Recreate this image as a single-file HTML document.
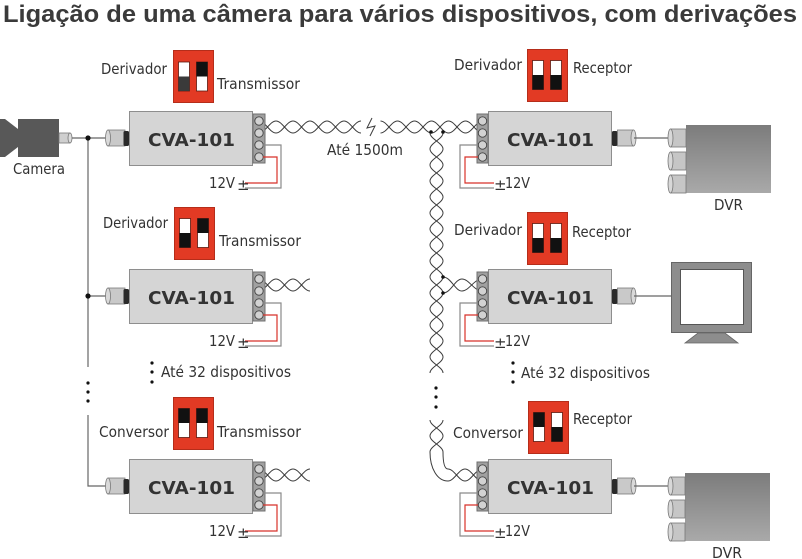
<!DOCTYPE html>
<html><head><meta charset="utf-8">
<style>
html,body{margin:0;padding:0;background:#fff;}
svg{display:block;}
text{font-family:"DejaVu Sans","Liberation Sans",sans-serif;fill:#333;font-size:15px;}
.t{font-family:"Liberation Sans",sans-serif;font-weight:bold;font-size:24px;fill:#3a3a3a;}
.c{font-family:"DejaVu Sans","Liberation Sans",sans-serif;font-weight:bold;font-size:18px;fill:#333;}
.w{fill:none;stroke:#3c3c3c;stroke-width:1;}
.g{fill:none;stroke:#8a8a8a;stroke-width:1.2;}
.r{fill:none;stroke:#d8322a;stroke-width:1.2;}
.ln{fill:none;stroke:#666;stroke-width:1.2;}
</style></head><body>
<svg width="802" height="559" viewBox="0 0 802 559" xmlns="http://www.w3.org/2000/svg">
<defs>
<linearGradient id="dvr" x1="0" y1="0" x2="0" y2="1"><stop offset="0" stop-color="#7c7c7c"/><stop offset="1" stop-color="#a9a9a9"/></linearGradient>
</defs>
<rect width="802" height="559" fill="#fff"/>

<text class="t" x="3" y="22" textLength="794" lengthAdjust="spacingAndGlyphs">Ligação de uma câmera para vários dispositivos, com derivações</text>

<!-- Camera -->
<polygon points="0,119 5,119 18,129 18,147 5,157 0,157" fill="#585858"/>
<rect x="18" y="119" width="41" height="38" fill="#585858"/>
<rect x="59" y="133" width="11" height="10" fill="#cfcfcf" stroke="#777" stroke-width="0.8"/>
<ellipse cx="70" cy="138" rx="2" ry="5" fill="#ddd" stroke="#777" stroke-width="0.8"/>
<text x="13" y="174" textLength="52" lengthAdjust="spacingAndGlyphs">Camera</text>

<!-- Left bus -->
<path class="ln" d="M72,138H108M88,138V367M88,296H109M88,415V486H108"/>
<circle cx="88" cy="138" r="2.6" fill="#111"/>
<circle cx="88" cy="296" r="2.6" fill="#111"/>
<circle cx="88" cy="383" r="1.6" fill="#111"/>
<circle cx="88" cy="392" r="1.6" fill="#111"/>
<circle cx="88" cy="401" r="1.6" fill="#111"/>

<!-- DIP switches -->
<g transform="translate(173,50)">
<rect x="0.5" y="0.5" width="40" height="52" fill="#e23a24" stroke="#b52d1a"/>
<rect x="5.5" y="12" width="11" height="29" fill="#fff" stroke="#5a1a10" stroke-width="0.8"/>
<rect x="5.5" y="26.5" width="11" height="14.5" fill="#3a3a3a"/>
<rect x="23.5" y="12" width="11" height="29" fill="#fff" stroke="#5a1a10" stroke-width="0.8"/>
<rect x="23.5" y="12" width="11" height="14.5" fill="#111"/>
</g>
<text x="101" y="74" textLength="66" lengthAdjust="spacingAndGlyphs">Derivador</text>
<text x="217" y="89" textLength="83" lengthAdjust="spacingAndGlyphs">Transmissor</text>

<g transform="translate(174,207)">
<rect x="0.5" y="0.5" width="40" height="52" fill="#e23a24" stroke="#b52d1a"/>
<rect x="5.5" y="11.5" width="11" height="29" fill="#fff" stroke="#5a1a10" stroke-width="0.8"/>
<rect x="5.5" y="26" width="11" height="14.5" fill="#111"/>
<rect x="23.5" y="11.5" width="11" height="29" fill="#fff" stroke="#5a1a10" stroke-width="0.8"/>
<rect x="23.5" y="11.5" width="11" height="14.5" fill="#111"/>
</g>
<text x="103" y="228" textLength="65" lengthAdjust="spacingAndGlyphs">Derivador</text>
<text x="219" y="246" textLength="82" lengthAdjust="spacingAndGlyphs">Transmissor</text>

<g transform="translate(173,397)">
<rect x="0.5" y="0.5" width="40" height="52" fill="#e23a24" stroke="#b52d1a"/>
<rect x="5.5" y="11.5" width="11" height="29" fill="#fff" stroke="#5a1a10" stroke-width="0.8"/>
<rect x="5.5" y="11.5" width="11" height="14.5" fill="#111"/>
<rect x="23.5" y="11.5" width="11" height="29" fill="#fff" stroke="#5a1a10" stroke-width="0.8"/>
<rect x="23.5" y="11.5" width="11" height="14.5" fill="#111"/>
</g>
<text x="99" y="437" textLength="70" lengthAdjust="spacingAndGlyphs">Conversor</text>
<text x="217" y="437" textLength="84" lengthAdjust="spacingAndGlyphs">Transmissor</text>

<g transform="translate(527,49)">
<rect x="0.5" y="0.5" width="40" height="52" fill="#e23a24" stroke="#b52d1a"/>
<rect x="5.5" y="11.5" width="11" height="29" fill="#fff" stroke="#5a1a10" stroke-width="0.8"/>
<rect x="5.5" y="26" width="11" height="14.5" fill="#111"/>
<rect x="23.5" y="11.5" width="11" height="29" fill="#fff" stroke="#5a1a10" stroke-width="0.8"/>
<rect x="23.5" y="26" width="11" height="14.5" fill="#111"/>
</g>
<text x="454" y="70" textLength="68" lengthAdjust="spacingAndGlyphs">Derivador</text>
<text x="573" y="73" textLength="59" lengthAdjust="spacingAndGlyphs">Receptor</text>

<g transform="translate(527,212)">
<rect x="0.5" y="0.5" width="40" height="52" fill="#e23a24" stroke="#b52d1a"/>
<rect x="5.5" y="11.5" width="11" height="29" fill="#fff" stroke="#5a1a10" stroke-width="0.8"/>
<rect x="5.5" y="26" width="11" height="14.5" fill="#111"/>
<rect x="23.5" y="11.5" width="11" height="29" fill="#fff" stroke="#5a1a10" stroke-width="0.8"/>
<rect x="23.5" y="26" width="11" height="14.5" fill="#111"/>
</g>
<text x="454" y="235" textLength="68" lengthAdjust="spacingAndGlyphs">Derivador</text>
<text x="572" y="237" textLength="59" lengthAdjust="spacingAndGlyphs">Receptor</text>

<g transform="translate(528,401)">
<rect x="0.5" y="0.5" width="40" height="52" fill="#e23a24" stroke="#b52d1a"/>
<rect x="5.5" y="11.5" width="11" height="29" fill="#fff" stroke="#5a1a10" stroke-width="0.8"/>
<rect x="5.5" y="11.5" width="11" height="14.5" fill="#111"/>
<rect x="23.5" y="11.5" width="11" height="29" fill="#fff" stroke="#5a1a10" stroke-width="0.8"/>
<rect x="23.5" y="26" width="11" height="14.5" fill="#111"/>
</g>
<text x="573" y="424" textLength="59" lengthAdjust="spacingAndGlyphs">Receptor</text>
<text x="453" y="438" textLength="70" lengthAdjust="spacingAndGlyphs">Conversor</text>

<!-- Até 32 dispositivos -->
<circle cx="152" cy="363" r="1.6" fill="#111"/><circle cx="152" cy="372" r="1.6" fill="#111"/><circle cx="152" cy="382" r="1.6" fill="#111"/>
<text x="161" y="377" textLength="130" lengthAdjust="spacingAndGlyphs">Até 32 dispositivos</text>
<circle cx="513" cy="363" r="1.6" fill="#111"/><circle cx="513" cy="372" r="1.6" fill="#111"/><circle cx="513" cy="382" r="1.6" fill="#111"/>
<text x="521" y="378" textLength="129" lengthAdjust="spacingAndGlyphs">Até 32 dispositivos</text>

<!-- Twisted pairs -->
<path class="w" d="M259,121c6.19,0 10.81,12 17,12s10.81,-12 17,-12s10.81,12 17,12s10.81,-12 17,-12s10.81,12 17,12s10.81,-12 17,-12"/>
<path class="w" d="M259,133c6.19,0 10.81,-12 17,-12s10.81,12 17,12s10.81,-12 17,-12s10.81,12 17,12s10.81,-12 17,-12s10.81,12 17,12"/>
<path class="w" d="M372,118L367,128L375,126L370,136"/>
<text x="327" y="155" textLength="76" lengthAdjust="spacingAndGlyphs">Até 1500m</text>
<path class="w" d="M380.5,121c6.19,0 10.81,12 17,12s10.81,-12 17,-12s10.81,12 17,12s10.81,-12 17,-12s10.81,12 17,12s10.81,-12 17,-12"/>
<path class="w" d="M380.5,133c6.19,0 10.81,-12 17,-12s10.81,12 17,12s10.81,-12 17,-12s10.81,12 17,12s10.81,-12 17,-12s10.81,12 17,12"/>

<path class="w" d="M259,279c6.19,0 10.81,12 17,12s10.81,-12 17,-12s10.81,12 17,12"/>
<path class="w" d="M259,291c6.19,0 10.81,-12 17,-12s10.81,12 17,12s10.81,-12 17,-12"/>
<path class="w" d="M259,469c6.19,0 10.81,12 17,12s10.81,-12 17,-12s10.81,12 17,12"/>
<path class="w" d="M259,481c6.19,0 10.81,-12 17,-12s10.81,12 17,12s10.81,-12 17,-12"/>

<!-- vertical pair -->
<path class="w" d="M430,133c0,5.83 13,10.17 13,16s-13,10.17 -13,16s13,10.17 13,16s-13,10.17 -13,16s13,10.17 13,16s-13,10.17 -13,16s13,10.17 13,16s-13,10.17 -13,16s13,10.17 13,16s-13,10.17 -13,16s13,10.17 13,16s-13,10.17 -13,16s13,10.17 13,16s-13,10.17 -13,16s13,10.17 13,16"/>
<path class="w" d="M443,133c0,5.83 -13,10.17 -13,16s13,10.17 13,16s-13,10.17 -13,16s13,10.17 13,16s-13,10.17 -13,16s13,10.17 13,16s-13,10.17 -13,16s13,10.17 13,16s-13,10.17 -13,16s13,10.17 13,16s-13,10.17 -13,16s13,10.17 13,16s-13,10.17 -13,16s13,10.17 13,16s-13,10.17 -13,16"/>
<circle cx="431" cy="132" r="1.8" fill="#111"/>
<circle cx="443" cy="132" r="1.8" fill="#111"/>
<path class="w" d="M443,277C451,277 455,291 462,291S474,279 482,279"/>
<path class="w" d="M443,293C451,293 455,279 462,279S474,291 482,291"/>
<circle cx="443" cy="277" r="1.8" fill="#111"/>
<circle cx="443" cy="293" r="1.8" fill="#111"/>
<circle cx="436" cy="388" r="1.6" fill="#111"/><circle cx="436" cy="397" r="1.6" fill="#111"/><circle cx="436" cy="407" r="1.6" fill="#111"/>
<path class="w" d="M430,420c0,5.83 13,10.17 13,16s-13,10.17 -13,16C430,468 437,481 448,481c6.19,0 10.81,-12 17,-12s10.81,12 17,12"/>
<path class="w" d="M443,420c0,5.83 -13,10.17 -13,16s13,10.17 13,16C443,461 444,469 448,469c6.19,0 10.81,12 17,12s10.81,-12 17,-12"/>

<!-- Left modules -->
<g transform="translate(129,111)">
<rect x="-21" y="19" width="17" height="16" fill="#c9c9c9" stroke="#7a7a7a" stroke-width="0.8"/>
<ellipse cx="-21" cy="27" rx="2.5" ry="8" fill="#d9d9d9" stroke="#7a7a7a" stroke-width="0.8"/>
<rect x="-5.5" y="20" width="5.5" height="15" rx="1.5" fill="#2a2a2a"/>
<rect x="0.5" y="0.5" width="123" height="54" fill="#d5d5d5" stroke="#8e8e8e"/>
<rect x="124" y="3" width="12" height="49" fill="#a0a0a0" stroke="#6f6f6f"/>
<g fill="#d2d2d2" stroke="#444" stroke-width="0.9"><circle cx="130" cy="10" r="4.2"/><circle cx="130" cy="22" r="4.2"/><circle cx="130" cy="34" r="4.2"/><circle cx="130" cy="46" r="4.2"/></g>
<path class="g" d="M134,34H152V77H116"/>
<path class="r" d="M134,46H148V72H116"/>
<text class="c" x="19" y="35" textLength="87" lengthAdjust="spacingAndGlyphs">CVA-101</text>
<text x="80" y="77" textLength="26" lengthAdjust="spacingAndGlyphs">12V</text>
<text x="108" y="79">±</text>
</g>
<g transform="translate(129,269)">
<rect x="-21" y="19" width="17" height="16" fill="#c9c9c9" stroke="#7a7a7a" stroke-width="0.8"/>
<ellipse cx="-21" cy="27" rx="2.5" ry="8" fill="#d9d9d9" stroke="#7a7a7a" stroke-width="0.8"/>
<rect x="-5.5" y="20" width="5.5" height="15" rx="1.5" fill="#2a2a2a"/>
<rect x="0.5" y="0.5" width="123" height="54" fill="#d5d5d5" stroke="#8e8e8e"/>
<rect x="124" y="3" width="12" height="49" fill="#a0a0a0" stroke="#6f6f6f"/>
<g fill="#d2d2d2" stroke="#444" stroke-width="0.9"><circle cx="130" cy="10" r="4.2"/><circle cx="130" cy="22" r="4.2"/><circle cx="130" cy="34" r="4.2"/><circle cx="130" cy="46" r="4.2"/></g>
<path class="g" d="M134,34H152V77H116"/>
<path class="r" d="M134,46H148V72H116"/>
<text class="c" x="19" y="35" textLength="87" lengthAdjust="spacingAndGlyphs">CVA-101</text>
<text x="80" y="77" textLength="26" lengthAdjust="spacingAndGlyphs">12V</text>
<text x="108" y="79">±</text>
</g>
<g transform="translate(129,459)">
<rect x="-21" y="19" width="17" height="16" fill="#c9c9c9" stroke="#7a7a7a" stroke-width="0.8"/>
<ellipse cx="-21" cy="27" rx="2.5" ry="8" fill="#d9d9d9" stroke="#7a7a7a" stroke-width="0.8"/>
<rect x="-5.5" y="20" width="5.5" height="15" rx="1.5" fill="#2a2a2a"/>
<rect x="0.5" y="0.5" width="123" height="54" fill="#d5d5d5" stroke="#8e8e8e"/>
<rect x="124" y="3" width="12" height="49" fill="#a0a0a0" stroke="#6f6f6f"/>
<g fill="#d2d2d2" stroke="#444" stroke-width="0.9"><circle cx="130" cy="10" r="4.2"/><circle cx="130" cy="22" r="4.2"/><circle cx="130" cy="34" r="4.2"/><circle cx="130" cy="46" r="4.2"/></g>
<path class="g" d="M134,34H152V77H116"/>
<path class="r" d="M134,46H148V72H116"/>
<text class="c" x="19" y="35" textLength="87" lengthAdjust="spacingAndGlyphs">CVA-101</text>
<text x="80" y="77" textLength="26" lengthAdjust="spacingAndGlyphs">12V</text>
<text x="108" y="79">±</text>
</g>

<!-- Right modules -->
<g transform="translate(488,111)">
<rect x="0.5" y="0.5" width="123" height="54" fill="#d5d5d5" stroke="#8e8e8e"/>
<rect x="-11" y="3" width="11" height="49" fill="#a0a0a0" stroke="#6f6f6f"/>
<g fill="#d2d2d2" stroke="#444" stroke-width="0.9"><circle cx="-5.5" cy="10" r="4.2"/><circle cx="-5.5" cy="22" r="4.2"/><circle cx="-5.5" cy="34" r="4.2"/><circle cx="-5.5" cy="46" r="4.2"/></g>
<rect x="124" y="20" width="5.5" height="15" rx="1.5" fill="#2a2a2a"/>
<rect x="129.5" y="19" width="16" height="16" fill="#c9c9c9" stroke="#7a7a7a" stroke-width="0.8"/>
<ellipse cx="145.5" cy="27" rx="2.5" ry="8" fill="#d9d9d9" stroke="#7a7a7a" stroke-width="0.8"/>
<path class="g" d="M-10,34H-28V77H6"/>
<path class="r" d="M-10,46H-23V72H6"/>
<text class="c" x="19" y="35" textLength="87" lengthAdjust="spacingAndGlyphs">CVA-101</text>
<text x="6" y="79">±</text>
<text x="17" y="77" textLength="25" lengthAdjust="spacingAndGlyphs">12V</text>
</g>
<g transform="translate(488,269)">
<rect x="0.5" y="0.5" width="123" height="54" fill="#d5d5d5" stroke="#8e8e8e"/>
<rect x="-11" y="3" width="11" height="49" fill="#a0a0a0" stroke="#6f6f6f"/>
<g fill="#d2d2d2" stroke="#444" stroke-width="0.9"><circle cx="-5.5" cy="10" r="4.2"/><circle cx="-5.5" cy="22" r="4.2"/><circle cx="-5.5" cy="34" r="4.2"/><circle cx="-5.5" cy="46" r="4.2"/></g>
<rect x="124" y="20" width="5.5" height="15" rx="1.5" fill="#2a2a2a"/>
<rect x="129.5" y="19" width="16" height="16" fill="#c9c9c9" stroke="#7a7a7a" stroke-width="0.8"/>
<ellipse cx="145.5" cy="27" rx="2.5" ry="8" fill="#d9d9d9" stroke="#7a7a7a" stroke-width="0.8"/>
<path class="g" d="M-10,34H-28V77H6"/>
<path class="r" d="M-10,46H-23V72H6"/>
<text class="c" x="19" y="35" textLength="87" lengthAdjust="spacingAndGlyphs">CVA-101</text>
<text x="6" y="79">±</text>
<text x="17" y="77" textLength="25" lengthAdjust="spacingAndGlyphs">12V</text>
</g>
<g transform="translate(488,459)">
<rect x="0.5" y="0.5" width="123" height="54" fill="#d5d5d5" stroke="#8e8e8e"/>
<rect x="-11" y="3" width="11" height="49" fill="#a0a0a0" stroke="#6f6f6f"/>
<g fill="#d2d2d2" stroke="#444" stroke-width="0.9"><circle cx="-5.5" cy="10" r="4.2"/><circle cx="-5.5" cy="22" r="4.2"/><circle cx="-5.5" cy="34" r="4.2"/><circle cx="-5.5" cy="46" r="4.2"/></g>
<rect x="124" y="20" width="5.5" height="15" rx="1.5" fill="#2a2a2a"/>
<rect x="129.5" y="19" width="16" height="16" fill="#c9c9c9" stroke="#7a7a7a" stroke-width="0.8"/>
<ellipse cx="145.5" cy="27" rx="2.5" ry="8" fill="#d9d9d9" stroke="#7a7a7a" stroke-width="0.8"/>
<path class="g" d="M-10,34H-28V77H6"/>
<path class="r" d="M-10,46H-23V72H6"/>
<text class="c" x="19" y="35" textLength="87" lengthAdjust="spacingAndGlyphs">CVA-101</text>
<text x="6" y="79">±</text>
<text x="17" y="77" textLength="25" lengthAdjust="spacingAndGlyphs">12V</text>
</g>

<!-- Output lines -->
<path class="ln" d="M634,138H670M634,296H671M634,486H670"/>

<!-- Top DVR -->
<rect x="686" y="125" width="85" height="68" fill="url(#dvr)"/>
<g fill="#c6c6c6" stroke="#777" stroke-width="0.8">
<rect x="670.5" y="129" width="15.5" height="18"/><ellipse cx="670.5" cy="138" rx="2.5" ry="9" fill="#d8d8d8"/>
<rect x="670.5" y="152" width="15.5" height="18"/><ellipse cx="670.5" cy="161" rx="2.5" ry="9" fill="#d8d8d8"/>
<rect x="670.5" y="175" width="15.5" height="18"/><ellipse cx="670.5" cy="184" rx="2.5" ry="9" fill="#d8d8d8"/>
</g>
<text x="714" y="210" textLength="29" lengthAdjust="spacingAndGlyphs">DVR</text>

<!-- Monitor -->
<rect x="671.5" y="262.5" width="80" height="70" fill="#8d8d8d" stroke="#666"/>
<rect x="680.5" y="269.5" width="63" height="55" fill="#fff" stroke="#555"/>
<polygon points="698,333 725,333 738,343 685,343" fill="#8d8d8d" stroke="#666" stroke-width="0.8"/>

<!-- Bottom DVR -->
<rect x="685" y="473" width="85" height="68" fill="url(#dvr)"/>
<g fill="#c6c6c6" stroke="#777" stroke-width="0.8">
<rect x="670.5" y="477" width="14.5" height="18"/><ellipse cx="670.5" cy="486" rx="2.5" ry="9" fill="#d8d8d8"/>
<rect x="670.5" y="500" width="14.5" height="18"/><ellipse cx="670.5" cy="509" rx="2.5" ry="9" fill="#d8d8d8"/>
<rect x="670.5" y="523" width="14.5" height="18"/><ellipse cx="670.5" cy="532" rx="2.5" ry="9" fill="#d8d8d8"/>
</g>
<text x="712" y="558" textLength="30" lengthAdjust="spacingAndGlyphs">DVR</text>
</svg>
</body></html>
